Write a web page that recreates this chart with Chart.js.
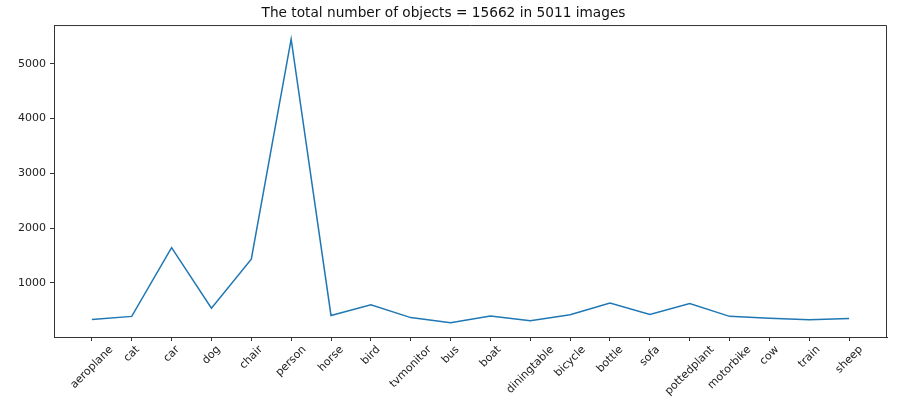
<!DOCTYPE html>
<html>
<head>
<meta charset="utf-8">
<script src="https://cdn.jsdelivr.net/npm/chart.js@4"></script>
<style>
  html, body { margin: 0; padding: 0; background: #fff; }
  canvas { display: block; }
</style>
</head>
<body>
<canvas id="countChart" width="900" height="403"></canvas>
<script>
// VOC2007 trainval object counts per class
const categories = ['aeroplane', 'cat', 'car', 'dog', 'chair', 'person', 'horse', 'bird', 'tvmonitor', 'bus',
    'boat', 'diningtable', 'bicycle', 'bottle', 'sofa', 'pottedplant', 'motorbike', 'cow', 'train', 'sheep'];
const counts = [331, 389, 1644, 538, 1432, 5447, 406, 599, 367, 272,
    398, 310, 418, 634, 425, 625, 390, 356, 328, 353];
const yTicks = [1000, 2000, 3000, 4000, 5000];
const titleText = 'The total number of objects = 15662 in 5011 images';

const FONT = 'DejaVu Sans';
const AXIS = '#333';

// top/right spines + rotated category labels (centred under each tick, like matplotlib)
const framePlugin = {
    id: 'frame',
    afterDraw(chart) {
        const { ctx, chartArea } = chart;
        const xs = chart.scales.x;
        ctx.save();
        ctx.strokeStyle = AXIS;
        ctx.lineWidth = 1;
        ctx.beginPath();
        ctx.moveTo(chartArea.left, chartArea.top + 0.5);
        ctx.lineTo(chartArea.right - 0.5, chartArea.top + 0.5);
        ctx.lineTo(chartArea.right - 0.5, chartArea.bottom);
        ctx.stroke();

        ctx.font = '11px "' + FONT + '"';
        ctx.fillStyle = '#222';
        ctx.textAlign = 'center';
        ctx.textBaseline = 'middle';
        const h = 11;
        categories.forEach((name, i) => {
            const x = xs.getPixelForValue(i);
            const w = ctx.measureText(name).width;
            const half = (w + h) * Math.SQRT1_2 / 2;
            ctx.save();
            ctx.translate(x, chartArea.bottom + 7 + half);
            ctx.rotate(-Math.PI / 4);
            ctx.fillText(name, 0, 0);
            ctx.restore();
        });
        ctx.restore();
    }
};

new Chart(document.getElementById('countChart'), {
    type: 'line',
    data: {
        datasets: [{
            data: counts.map((v, i) => ({ x: i, y: v })),
            borderColor: '#1f77b4',
            borderWidth: 1.5,
            pointRadius: 0,
            tension: 0,
            fill: false
        }]
    },
    options: {
        responsive: false,
        animation: false,
        layout: { padding: { left: 0, right: 13, top: 0, bottom: 0 } },
        plugins: {
            legend: { display: false },
            tooltip: { enabled: false },
            title: {
                display: true,
                text: titleText,
                color: '#111',
                font: { family: FONT, size: 13.7, weight: 'normal' },
                padding: { top: 5, bottom: 3.6 }
            }
        },
        scales: {
            x: {
                type: 'linear',
                min: -0.95,
                max: 19.95,
                afterBuildTicks: scale => { scale.ticks = categories.map((_, i) => ({ value: i })); },
                afterFit: scale => { scale.height = 66; },
                ticks: { display: false },
                grid: { drawOnChartArea: false, drawTicks: true, tickLength: 4, color: AXIS },
                border: { color: AXIS }
            },
            y: {
                type: 'linear',
                min: 13.25,
                max: 5705.75,
                afterBuildTicks: scale => { scale.ticks = yTicks.map(v => ({ value: v })); },
                afterFit: scale => { scale.width = 54; },
                ticks: {
                    color: '#222',
                    padding: 4,
                    font: { family: FONT, size: 11 },
                    callback: v => String(v)
                },
                grid: { drawOnChartArea: false, drawTicks: true, tickLength: 4, color: AXIS },
                border: { color: AXIS }
            }
        }
    },
    plugins: [framePlugin]
});
</script>
</body>
</html>
